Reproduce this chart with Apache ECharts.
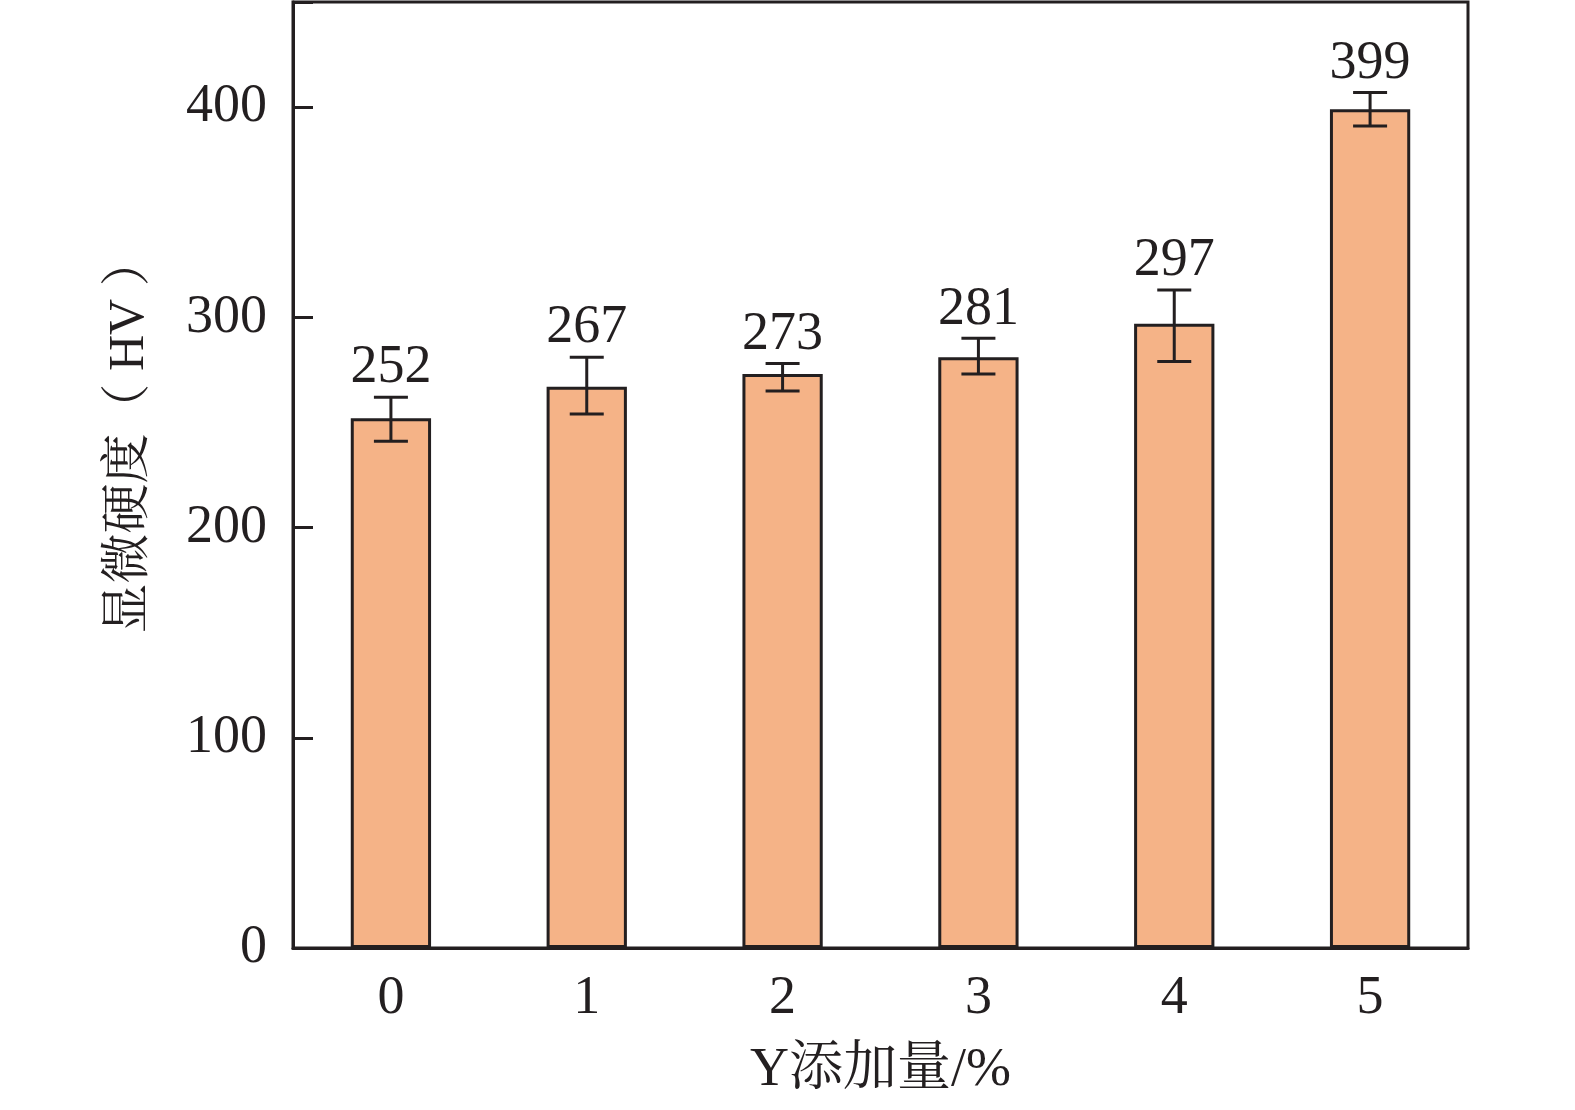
<!DOCTYPE html>
<html><head><meta charset="utf-8">
<script src="https://cdn.jsdelivr.net/npm/echarts@6/dist/echarts.min.js"></script>
<style>html,body{margin:0;padding:0;background:#fff}#c{width:1575px;height:1110px}</style>
</head><body><div id="c"></div>
<script>
const categories = ['0', '1', '2', '3', '4', '5'];
const hardness = [252, 267, 273, 281, 297, 399];
const errLow = [241, 254, 265, 273, 279, 391];
const errHigh = [262, 281, 278, 290, 313, 407];
const yTicks = [0, 100, 200, 300, 400];

const FONT = '"Liberation Serif", "Times New Roman", "Noto Serif CJK SC", "Noto Sans CJK SC", serif';
const INK = '#231F20';
const chart = echarts.init(document.getElementById('c'));
chart.setOption({
  animation: false,
  grid: { left: 293, right: 107, top: 2, bottom: 162, show: true, borderColor: INK, borderWidth: 3, backgroundColor: 'transparent' },
  xAxis: {
    type: 'category', data: categories,
    name: 'Y添加量/%', nameLocation: 'middle', nameGap: 96,
    nameTextStyle: { fontFamily: FONT, fontSize: 54, color: INK },
    axisLine: { lineStyle: { color: INK, width: 3 } },
    axisTick: { show: false },
    axisLabel: { fontFamily: FONT, fontSize: 54, color: INK, margin: 24 }
  },
  yAxis: {
    type: 'value', min: 0, max: 450, interval: 100,
    name: '显微硬度（ HV ）', nameLocation: 'middle', nameGap: 138, nameRotate: 90,
    nameTextStyle: { fontFamily: FONT, fontSize: 50, color: INK, padding: [0, 0, 0, 80] },
    axisLine: { show: true, lineStyle: { color: INK, width: 3 } },
    axisTick: { show: true, inside: true, length: 20, lineStyle: { color: INK, width: 3 } },
    splitLine: { show: false },
    axisLabel: { fontFamily: FONT, fontSize: 54, color: INK, margin: 26,
      formatter: v => yTicks.includes(v) ? String(v) : '' }
  },
  series: [
    {
      type: 'bar', data: hardness, barWidth: '41%',
      itemStyle: { color: '#F5B387', borderColor: INK, borderWidth: 3 }
    },
    {
      type: 'custom',
      data: hardness.map((v, i) => [i, v, errLow[i], errHigh[i]]),
      renderItem: function (params, api) {
        const i = api.value(0);
        const top = api.coord([i, api.value(3)]);
        const bot = api.coord([i, api.value(2)]);
        const hw = 17;
        const st = { stroke: INK, lineWidth: 3 };
        return {
          type: 'group',
          children: [
            { type: 'line', shape: { x1: top[0], y1: top[1], x2: bot[0], y2: bot[1] }, style: st },
            { type: 'line', shape: { x1: top[0] - hw, y1: top[1], x2: top[0] + hw, y2: top[1] }, style: st },
            { type: 'line', shape: { x1: bot[0] - hw, y1: bot[1], x2: bot[0] + hw, y2: bot[1] }, style: st },
            { type: 'text', x: top[0], y: top[1] - 2, style: { text: String(api.value(1)), fontFamily: FONT, fontSize: 54, fill: INK, textAlign: 'center', textVerticalAlign: 'bottom' } }
          ]
        };
      },
      z: 5
    }
  ]
});
</script></body></html>
